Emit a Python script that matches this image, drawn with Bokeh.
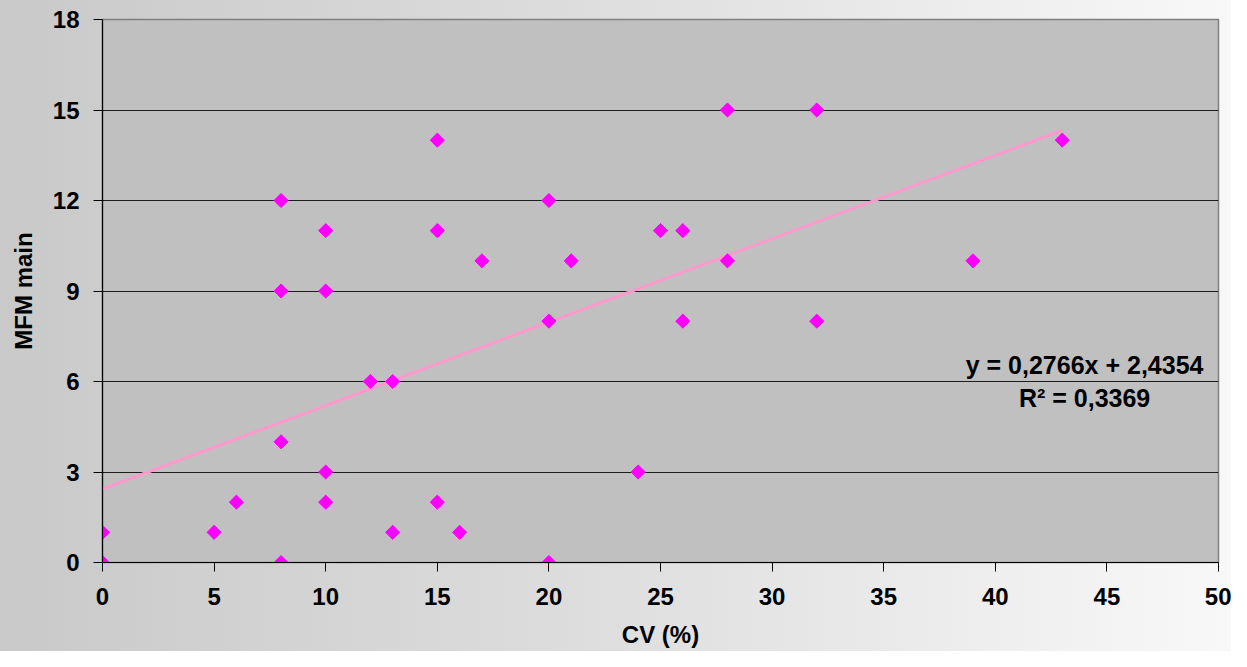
import numpy as np
from bokeh.plotting import figure
from bokeh.models import ColumnDataSource, FixedTicker, Label
from bokeh.embed import file_html
from bokeh.resources import INLINE

# Data
cv = [0, 0, 5, 6, 8, 8, 8, 8, 10, 10, 10, 10, 12, 13, 13, 15, 15, 15, 16, 17,
      20, 20, 20, 21, 24, 25, 26, 26, 28, 28, 32, 32, 39, 43]
mfm = [1, 0, 1, 2, 0, 4, 9, 12, 11, 9, 3, 2, 6, 6, 1, 14, 11, 2, 1, 10,
       12, 8, 0, 10, 3, 11, 11, 8, 15, 10, 15, 8, 10, 14]
slope = 0.2766
intercept = 2.4354
r_squared = 0.3369
x_ticks = [0, 5, 10, 15, 20, 25, 30, 35, 40, 45, 50]
y_ticks = [0, 3, 6, 9, 12, 15, 18]

FONT = "Liberation Sans"

p = figure(width=1231, height=651, output_backend="svg", toolbar_location=None,
           x_range=(0, 50), y_range=(0, 18),
           min_border_left=102, min_border_right=13, min_border_top=19, min_border_bottom=89)

p.styles = {"background": "linear-gradient(to right, #c9c9c9 0%, #dcdcdc 45%, #f8f8f8 100%)"}
p.border_fill_alpha = 0
p.background_fill_color = "#C0C0C0"
p.outline_line_color = "#808080"
p.outline_line_width = 1.5

# grid
p.xgrid.visible = False
p.ygrid.grid_line_color = "#000000"
p.ygrid.grid_line_width = 1
p.ygrid.grid_line_alpha = 0.85

for ax, ticks in ((p.xaxis, x_ticks), (p.yaxis, y_ticks)):
    ax.ticker = FixedTicker(ticks=ticks)
    ax.axis_line_color = "#000000"
    ax.axis_line_width = 1.2
    ax.major_tick_line_color = "#000000"
    ax.major_tick_out = 9
    ax.major_tick_in = 0
    ax.minor_tick_line_color = None
    ax.major_label_text_font = FONT
    ax.major_label_text_font_style = "bold"
    ax.major_label_text_font_size = "24px"
    ax.major_label_text_color = "#000000"
    ax.axis_label_text_font = FONT
    ax.axis_label_text_font_style = "bold"
    ax.axis_label_text_font_size = "24px"
    ax.axis_label_text_color = "#000000"

p.xaxis.axis_label = "CV (%)"
p.yaxis.axis_label = "MFM main"
p.xaxis.major_label_standoff = 16
p.xaxis.axis_label_standoff = 13
p.yaxis.major_label_standoff = 14
p.yaxis.axis_label_standoff = 13
p.yaxis.major_label_orientation = "horizontal"

# trend line computed from the regression coefficients
tx = np.array([min(cv), max(cv)], dtype=float)
ty = slope * tx + intercept
p.line(tx, ty, line_color="#FF99CC", line_width=3)

src = ColumnDataSource(dict(x=cv, y=mfm))
p.scatter("x", "y", source=src, marker="square", angle=np.pi / 4, size=10,
          fill_color="#FF00FF", line_color="#FF00FF")

eq1 = "y = " + f"{slope:.4f}".replace(".", ",") + "x + " + f"{intercept:.4f}".replace(".", ",")
eq2 = "R\u00b2 = " + f"{r_squared:.4f}".replace(".", ",")
p.add_layout(Label(x=44.0, y=6.55, text=eq1, text_align="center", text_baseline="middle",
                   text_font=FONT, text_font_style="bold", text_font_size="25px",
                   text_color="#000000"))
p.add_layout(Label(x=44.0, y=5.45, text=eq2, text_align="center", text_baseline="middle",
                   text_font=FONT, text_font_style="bold", text_font_size="25px",
                   text_color="#000000"))

open("out.html", "w").write(file_html(p, INLINE))
